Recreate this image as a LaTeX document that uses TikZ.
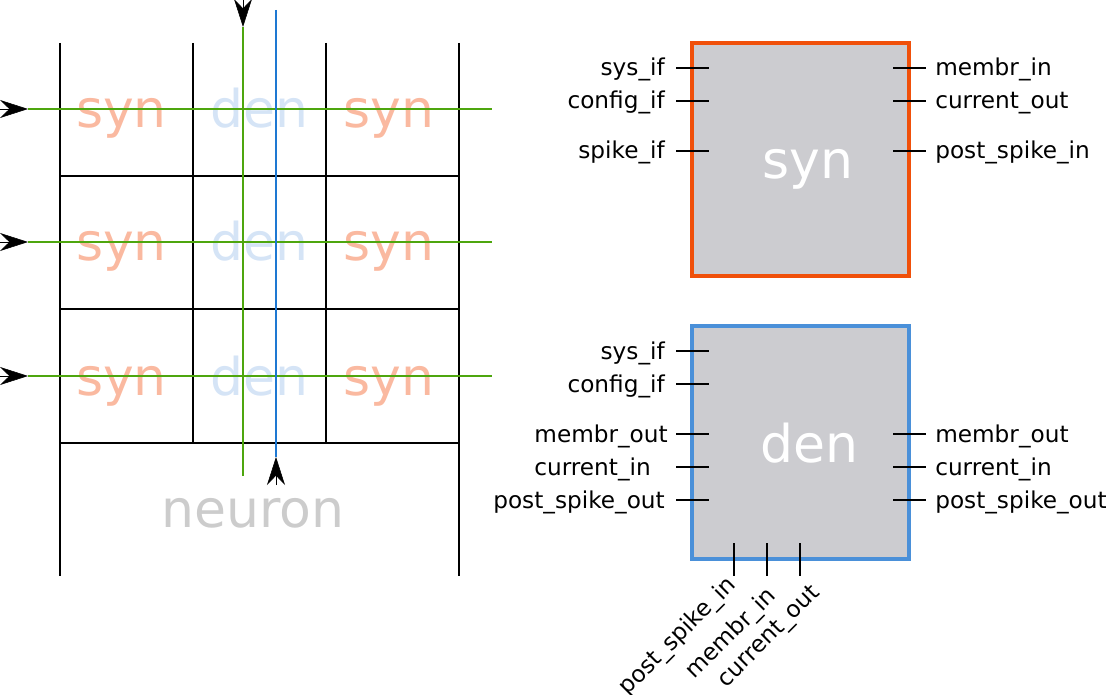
\documentclass[tikz,border=0pt]{standalone}
\usepackage{fontspec}
\setmainfont{DejaVu Sans}
\usetikzlibrary{arrows.meta}
\definecolor{synfade}{RGB}{250,185,160}
\definecolor{denfade}{RGB}{213,228,246}
\definecolor{neurgray}{RGB}{204,204,204}
\definecolor{lgreen}{RGB}{78,166,14}
\definecolor{lblue}{RGB}{30,120,210}
\definecolor{synborder}{RGB}{240,80,10}
\definecolor{denborder}{RGB}{74,144,217}
\definecolor{boxfill}{RGB}{204,204,208}
\tikzset{
  gridline/.style={black, line width=1.4pt},
  sigline/.style={lgreen, line width=1.4pt},
  bsigline/.style={lblue, line width=1.4pt},
  arr/.style={black, line width=0.4pt, -{Stealth[length=21pt,width=13.5pt,inset=7pt]}},
  bigtxt/.style={font=\fontsize{39}{41}\selectfont, inner sep=0pt, anchor=base},
  blockbox/.style={line width=2.6pt, fill=boxfill, minimum width=162.75pt, minimum height=174.75pt, inner sep=0pt},
  lbl/.style={font=\fontsize{17.4}{19}\selectfont, inner sep=0pt},
  tick/.style={black, line width=1.3pt},
}
\begin{document}
\begin{tikzpicture}[x=0.75pt,y=-0.75pt]
\useasboundingbox (0,0) rectangle (1106,695);
% ---------- grid ----------
\foreach \x/\n in {60/a,459/d}{
  \coordinate (v\n t) at (\x,43); \coordinate (v\n b) at (\x,576);
  \draw[gridline] (v\n t) -- (v\n b);}
\foreach \x/\n in {193/b,326/c}{
  \coordinate (v\n t) at (\x,43); \coordinate (v\n b) at (\x,443);
  \draw[gridline] (v\n t) -- (v\n b);}
\foreach \y/\n in {176/1,309/2,443/3}{
  \coordinate (h\n l) at (60,\y); \coordinate (h\n r) at (459,\y);
  \draw[gridline] (h\n l) -- (h\n r);}
% faded labels
\foreach \y/\n in {128/1,261/2,395/3}{
  \node[bigtxt, text=synfade] (synA\n) at (121.5,\y) {syn};
  \node[bigtxt, text=denfade] (den\n) at (259,\y) {den};
  \node[bigtxt, text=synfade] (synB\n) at (389,\y) {syn};
}
\node[bigtxt, text=neurgray] (neuron) at (253,527) {neuron};
% signal lines
\foreach \y/\n in {109/1,242/2,376/3}{
  \coordinate (in\n) at (0,\y); \coordinate (gs\n) at (28,\y); \coordinate (ge\n) at (492,\y);
  \draw[sigline] (gs\n) -- (ge\n);
  \draw[arr] (in\n) -- (gs\n);}
\coordinate (gvin) at (243,0); \coordinate (gvs) at (243,27); \coordinate (gve) at (243,476);
\draw[sigline] (gvs) -- (gve);
\draw[arr] (gvin) -- (gvs);
\coordinate (bvs) at (276,10); \coordinate (bve) at (276,457); \coordinate (bvin) at (276,485);
\draw[bsigline] (bvs) -- (bve);
\draw[arr] (bvin) -- (bve);
% ---------- syn block ----------
\node[blockbox, draw=synborder] (synbox) at (800.5,159.5) {};
\node[bigtxt, text=white] (syntxt) at (808,179) {syn};
\foreach \y/\t/\n in {68/sys\_if/1,101/config\_if/2,151/spike\_if/3}{
  \node[lbl, anchor=base east] (sl\n) at (665,\y+8) {\t};
  \coordinate (slt\n) at (676,\y); \coordinate (sle\n) at (709,\y);
  \draw[tick] (slt\n) -- (sle\n);}
\foreach \y/\t/\n in {68/membr\_in/1,101/current\_out/2,151/post\_spike\_in/3}{
  \node[lbl, anchor=base west] (sr\n) at (935,\y+8) {\t};
  \coordinate (srt\n) at (893,\y); \coordinate (sre\n) at (926,\y);
  \draw[tick] (srt\n) -- (sre\n);}
% ---------- den block ----------
\node[blockbox, draw=denborder] (denbox) at (800.5,442.5) {};
\node[bigtxt, text=white] (dentxt) at (809,462) {den};
\foreach \y/\t/\x/\n in {351/sys\_if/665/1,384/config\_if/665/2,434/membr\_out/668/3,467/current\_in/651/4,500/post\_spike\_out/665/5}{
  \node[lbl, anchor=base east] (dl\n) at (\x,\y+8) {\t};
  \coordinate (dlt\n) at (676,\y); \coordinate (dle\n) at (709,\y);
  \draw[tick] (dlt\n) -- (dle\n);}
\foreach \y/\t/\n in {434/membr\_out/1,467/current\_in/2,500/post\_spike\_out/3}{
  \node[lbl, anchor=base west] (dr\n) at (935,\y+8) {\t};
  \coordinate (drt\n) at (893,\y); \coordinate (dre\n) at (926,\y);
  \draw[tick] (drt\n) -- (dre\n);}
\foreach \x/\t/\lx/\ly/\n in {734/post\_spike\_in/733/582/1,767/membr\_in/773/593/2,800/current\_out/817/590/3}{
  \coordinate (dbt\n) at (\x,543); \coordinate (dbe\n) at (\x,576);
  \draw[tick] (dbt\n) -- (dbe\n);
  \node[lbl, rotate=45, anchor=east] (db\n) at (\lx,\ly) {\t};}
\end{tikzpicture}
\end{document}
